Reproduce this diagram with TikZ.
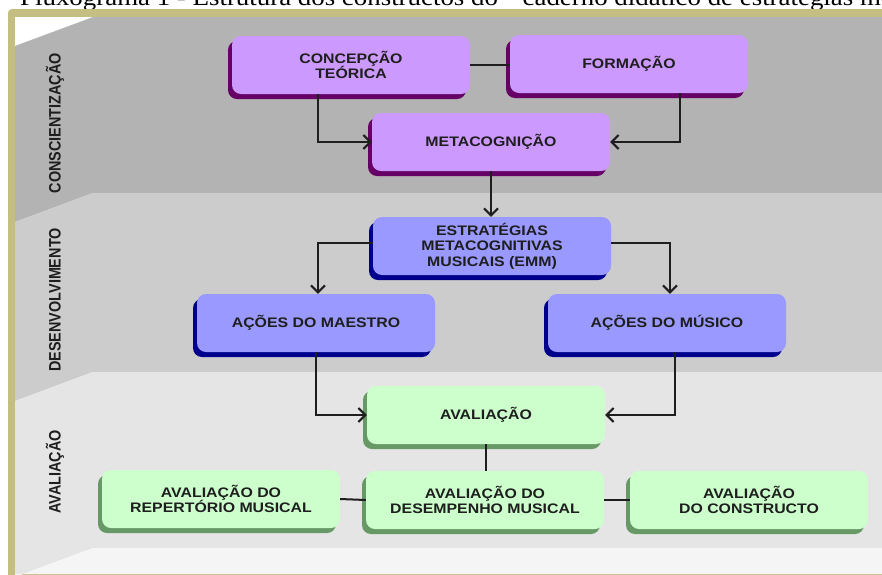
\documentclass[tikz,border=0pt]{standalone}
\usepackage{fontspec}
\setmainfont{Liberation Serif}
\newfontfamily\capfont[FakeStretch=1.12]{Liberation Serif}
\newfontfamily\boxfont[FakeStretch=1.15]{Liberation Sans Bold}
\newfontfamily\sidefont{Liberation Sans Bold}
\usetikzlibrary{arrows.meta,shadows}
\definecolor{olive}{RGB}{197,190,131}
\definecolor{bandA}{RGB}{179,179,179}
\definecolor{bandB}{RGB}{204,204,204}
\definecolor{bandC}{RGB}{229,229,229}
\definecolor{bandD}{RGB}{245,245,245}
\definecolor{purpfill}{RGB}{204,153,255}
\definecolor{purpshad}{RGB}{102,0,102}
\definecolor{bluefill}{RGB}{153,153,255}
\definecolor{blueshad}{RGB}{0,0,140}
\definecolor{greenfill}{RGB}{204,255,204}
\definecolor{greenshad}{RGB}{102,153,102}
\definecolor{ink}{RGB}{30,30,30}
\tikzset{
  card/.style={rounded corners=9pt, minimum width=238pt, minimum height=58pt, inner sep=0pt,
    align=center, font=\boxfont\fontsize{13.8}{15.5}\selectfont, text=ink},
  purp/.style={card, fill=purpfill, general shadow={shadow xshift=-4pt,shadow yshift=-5pt,fill=purpshad}},
  bluebox/.style={card, fill=bluefill, general shadow={shadow xshift=-4pt,shadow yshift=-5pt,fill=blueshad}},
  greenbox/.style={card, fill=greenfill, general shadow={shadow xshift=-4pt,shadow yshift=-5pt,fill=greenshad}},
  link/.style={line width=2pt, ink},
  arr/.style={link, -{Straight Barb[length=7pt,width=14pt,line width=2pt]}},
  sidelabel/.style={rotate=90, font=\sidefont\fontsize{14.4}{16}\selectfont, text=ink, inner sep=0pt}
}
\newcommand{\tallside}[1]{\scalebox{1}[1.15]{#1}}
\begin{document}
\begin{tikzpicture}[x=1pt,y=-1pt]
\useasboundingbox (0,0) rectangle (882,574);
\clip (0,0) rectangle (882,574);
% caption
\node[anchor=base west, inner sep=0pt, font=\capfont\fontsize{24}{26}\selectfont] (cap) at (20,5.5)
  {Fluxograma 1 - Estrutura dos constructos do ``caderno didático de estratégias metacognitivas};
% frame
\fill[olive, rounded corners=4pt] (8,9) rectangle (900,600);
\fill[white] (15,17) rectangle (882,574);
% bands
\fill[bandA] (15,46) -- (93,17) -- (882,17) -- (882,193) -- (93,193) -- (15,222) -- cycle;
\fill[bandB] (15,222) -- (93,193) -- (882,193) -- (882,372) -- (93,372) -- (15,401) -- cycle;
\fill[bandC] (15,401) -- (93,372) -- (882,372) -- (882,548) -- (93,548) -- (15,577) -- cycle;
\fill[bandD] (93,548) -- (882,548) -- (882,574) -- (15,574) -- (15,577) -- cycle;
% side labels
\node[sidelabel] (l1) at (55,123) {\tallside{CONSCIENTIZAÇÃO}};
\node[sidelabel] (l2) at (55,300) {\tallside{DESENVOLVIMENTO}};
\node[sidelabel] (l3) at (55,472) {\tallside{AVALIAÇÃO}};
% boxes
\node[purp] (conc) at (351,65) {CONCEPÇÃO\\TEÓRICA};
\node[purp] (form) at (629,64) {FORMAÇÃO};
\node[purp] (meta) at (491,142) {METACOGNIÇÃO};
\node[bluebox] (emm) at (492,246) {ESTRATÉGIAS\\METACOGNITIVAS\\MUSICAIS (EMM)};
\node[bluebox] (maes) at (316,323) {AÇÕES DO MAESTRO};
\node[bluebox] (musi) at (667,323) {AÇÕES DO MÚSICO};
\node[greenbox] (aval) at (486,415) {AVALIAÇÃO};
\node[greenbox] (rep) at (221,499) {AVALIAÇÃO DO\\REPERTÓRIO MUSICAL};
\node[greenbox] (des) at (485,500) {AVALIAÇÃO DO\\DESEMPENHO MUSICAL};
\node[greenbox] (cons) at (749,500) {AVALIAÇÃO\\DO CONSTRUCTO};
% connectors
\draw[link] (conc.east) -- (conc.east -| form.west);
\draw[arr] ([xshift=-33pt]conc.south) |- (meta.west);
\draw[arr] ([xshift=51pt]form.south) |- (meta.east);
\draw[arr] (meta.south) -- (meta.south |- emm.north);
\draw[arr] ([yshift=3pt]emm.west) -| ([xshift=2pt]maes.north);
\draw[arr] ([yshift=3pt]emm.east) -| ([xshift=3pt]musi.north);
\draw[arr] (maes.south) |- (aval.west);
\draw[arr] ([xshift=8pt]musi.south) |- (aval.east);
\draw[link] (aval.south) -- (aval.south |- des.north);
\draw[link] (rep.east) -- (des.west);
\draw[link] (des.east) -- (cons.west);
\end{tikzpicture}
\end{document}
